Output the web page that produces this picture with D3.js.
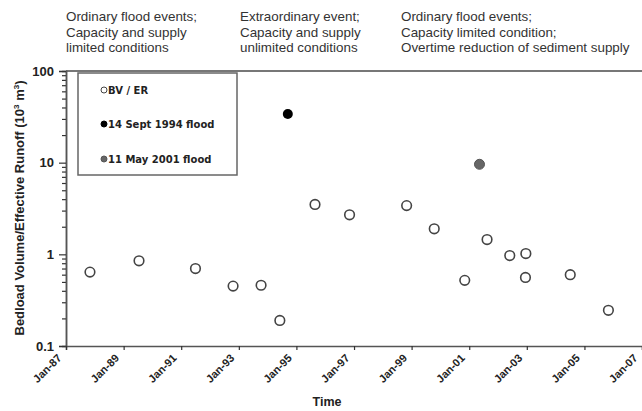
<!DOCTYPE html>
<html><head><meta charset="utf-8">
<script src="https://cdn.jsdelivr.net/npm/d3@7"></script>
<style>body{margin:0;background:#fff}svg{display:block}</style>
</head><body>
<script>
// Data
const bvDates = ["1987-11-01","1989-07-15","1991-07-01","1992-10-20","1993-10-10","1994-06-05","1995-08-25","1996-11-05","1998-10-30","1999-10-15","2000-11-05","2001-08-15","2002-05-30","2002-12-20","2002-12-15","2004-07-05","2005-11-01"];
const bvValues = [0.64,0.85,0.70,0.45,0.46,0.19,3.5,2.7,3.4,1.9,0.52,1.45,0.97,1.02,0.56,0.60,0.245];
const flood1994 = {date:"1994-09-14", value:34};
const flood2001 = {date:"2001-05-11", value:9.6};
const xTickYears = [1987,1989,1991,1993,1995,1997,1999,2001,2003,2005,2007];
const yTicks = [0.1,1,10,100];
const legendLabels = ["BV / ER","14 Sept 1994 flood","11 May 2001 flood"];
const annotations = [
  ["Ordinary flood events;","Capacity and supply","limited conditions"],
  ["Extraordinary event;","Capacity and supply","unlimited conditions"],
  ["Ordinary flood events;","Capacity limited condition;","Overtime reduction of sediment supply"]
];

const W=642,H=411;
const svg=d3.select("body").append("svg").attr("width",W).attr("height",H);
const parse=d3.timeParse("%Y-%m-%d");
const x=d3.scaleTime().domain([new Date(1987,0,1),new Date(2007,0,1)]).range([66,642]);
const y=d3.scaleLog().domain([0.1,100]).range([346,71]);
const FONT="Liberation Sans, Arial, sans-serif";

// annotations
const annX=[66,240,401];
annotations.forEach((lines,i)=>{
  const t=svg.append("text").style("font-family",FONT).style("font-size","13.4px").attr("fill","#333");
  lines.forEach((l,j)=>t.append("tspan").attr("x",annX[i]).attr("y",21+j*15.5).text(l));
});

// top border
svg.append("line").attr("x1",66).attr("x2",642).attr("y1",71).attr("y2",71).attr("stroke","#777").attr("stroke-width",2);

// y axis
const minor=[];
[0.1,1,10].forEach(d=>{for(let k=2;k<=9;k++)minor.push(+(d*k).toPrecision(3));});
const gy=svg.append("g").attr("transform","translate(66,0)");
gy.call(d3.axisLeft(y).tickValues(minor).tickSize(4).tickFormat(""));
gy.selectAll(".tick line").attr("stroke","#333").attr("stroke-width",1.2);
const gy2=svg.append("g").attr("transform","translate(66,0)");
gy2.call(d3.axisLeft(y).tickValues(yTicks).tickSize(7).tickFormat(d=>d===0.1?"0.1":d3.format("d")(d)));
gy2.selectAll("text").style("font-family",FONT).style("font-size","13px").style("font-weight","bold").attr("fill","#222").attr("dx","-2");
gy2.selectAll(".tick line").attr("stroke","#333").attr("stroke-width",1.2);
svg.selectAll(".domain").attr("stroke","#555").attr("stroke-width",1.5);

// x axis
const gx=svg.append("g").attr("transform","translate(0,346)");
gx.call(d3.axisBottom(x).tickValues(xTickYears.map(yr=>new Date(yr,0,1))).tickSize(4).tickFormat(d3.timeFormat("Jan-%y")));
gx.select(".domain").attr("stroke","#555").attr("stroke-width",1.5);
gx.selectAll(".tick line").attr("stroke","#333").attr("stroke-width",1.2);
gx.selectAll("text").style("font-family",FONT).style("font-size","11px").style("font-weight","bold").attr("fill","#222")
  .attr("text-anchor","end").attr("transform","translate(-7,10) rotate(-45)").attr("dy","0.35em").attr("y",0).attr("x",0);

// axis titles
svg.append("text").attr("x",327).attr("y",406).attr("text-anchor","middle")
  .style("font-family",FONT).style("font-size","12.5px").style("font-weight","bold").attr("fill","#222").text("Time");
const yt=svg.append("text").attr("transform","translate(24,208) rotate(-90)").attr("text-anchor","middle")
  .style("font-family",FONT).style("font-size","13px").style("font-weight","bold").attr("fill","#222");
yt.append("tspan").text("Bedload Volume/Effective Runoff (10");
yt.append("tspan").attr("dy","-5").style("font-size","8px").text("3");
yt.append("tspan").attr("dy","5").text(" m");
yt.append("tspan").attr("dy","-5").style("font-size","8px").text("3");
yt.append("tspan").attr("dy","5").text(")");

// legend
svg.append("rect").attr("x",78).attr("y",73).attr("width",159).attr("height",102).attr("fill","#fff").attr("stroke","#666").attr("stroke-width",1.5);
const legY=[90,124,159];
const legStyle=[{f:"#fff",s:"#444"},{f:"#000",s:"#000"},{f:"#666",s:"#555"}];
legendLabels.forEach((l,i)=>{
  svg.append("circle").attr("cx",104).attr("cy",legY[i]).attr("r",3).attr("fill",legStyle[i].f).attr("stroke",legStyle[i].s).attr("stroke-width",1);
  svg.append("text").attr("x",108).attr("y",legY[i]).attr("dy","0.35em")
    .style("font-family","DejaVu Sans, sans-serif").style("font-size","10px").style("font-weight","bold").attr("fill","#222").text(l);
});

// points
svg.append("g").selectAll("circle").data(bvDates.map((d,i)=>({d:parse(d),v:bvValues[i]}))).join("circle")
  .attr("cx",p=>x(p.d)).attr("cy",p=>y(p.v)).attr("r",4.8).attr("fill","#fff").attr("stroke","#444").attr("stroke-width",1.6);
svg.append("circle").attr("cx",x(parse(flood1994.date))).attr("cy",y(flood1994.value)).attr("r",5).attr("fill","#000");
svg.append("circle").attr("cx",x(parse(flood2001.date))).attr("cy",y(flood2001.value)).attr("r",5).attr("fill","#666").attr("stroke","#555");
</script>
</body></html>
